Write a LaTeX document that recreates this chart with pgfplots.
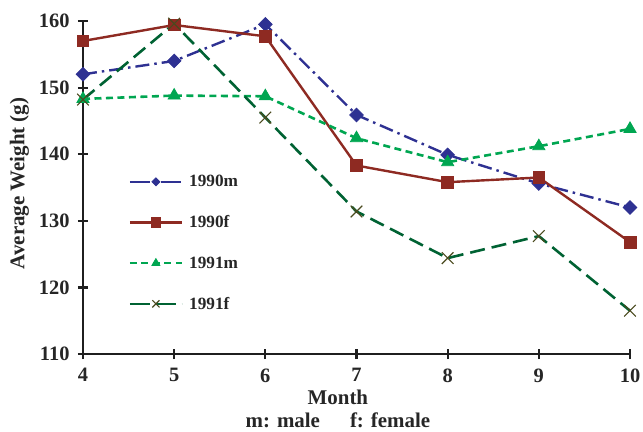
\documentclass[border=0pt]{standalone}
\usepackage{pgfplots}
\pgfplotsset{compat=1.18}
\usepackage{fontspec}
\setmainfont{Liberation Serif}
\definecolor{cBlue}{HTML}{2E3192}
\definecolor{cRed}{HTML}{8E2A22}
\definecolor{cGreen}{HTML}{00A651}
\definecolor{cDark}{HTML}{006233}
\definecolor{cOlive}{HTML}{4A4A1E}
\begin{document}
\begin{tikzpicture}
\useasboundingbox (-83bp,-78bp) rectangle (560bp,354bp);
\begin{axis}[
  at={(0,0)}, anchor=south west,
  scale only axis,
  width=547bp, height=333bp,
  xmin=4, xmax=10, ymin=110, ymax=160,
  xtick={4,5,6,7,8,9,10},
  ytick={110,120,130,140,150,160},
  axis lines=left,
  axis line style={-, line width=2.6bp, black!88},
  tick style={line width=2.2bp, black!88},
  major tick length=10bp,
  tick align=center,
  clip=false,
  /pgf/number format/assume math mode=true,
  tick label style={font=\fontsize{20.5}{24}\selectfont\bfseries, text=black!85},
  xticklabel style={yshift=-6bp},
  yticklabel style={xshift=-5bp},
  xlabel={Month\\m: male\hspace{30bp}f: female},
  xlabel style={at={(axis description cs:0.466,0)}, anchor=north, inner sep=0pt, yshift=-36bp,
    align=center, font=\fontsize{21}{23}\selectfont\bfseries, text=black!85},
  ylabel={Average Weight (g)},
  ylabel style={at={(axis description cs:-0.116,0.512)}, anchor=center, inner sep=0pt,
    font=\fontsize{21}{23}\selectfont\bfseries, text=black!85},
  legend style={draw=none, fill=none, at={(0.083,0.543)}, anchor=north west,
    font=\fontsize{17.3}{19}\selectfont\bfseries, text=black!85, row sep=23.4bp, inner sep=0pt,
    /tikz/every odd column/.append style={column sep=4bp}},
  legend cell align=left,
  legend image code/.code={\draw[mark repeat=2,mark phase=2] plot coordinates {(0bp,0bp) (26bp,0bp) (52bp,0bp)};},
]
\addplot[forget plot, cBlue, line width=2.4bp, dash pattern=on 14bp off 5bp on 2.5bp off 5bp, mark=square*, mark size=4.8bp, mark options={solid, fill=cBlue, rotate=45, line width=0.8bp}]
  coordinates {(4,152.0) (5,154.0) (6,159.5) (7,145.9) (8,139.9) (9,135.6) (10,132.0)};
\addplot[forget plot, cRed, line width=2.4bp, solid, mark=square*, mark size=5.9bp, mark options={solid, fill=cRed, line width=0.8bp}]
  coordinates {(4,157.0) (5,159.4) (6,157.7) (7,138.3) (8,135.8) (9,136.5) (10,126.8)};
\addplot[forget plot, cGreen, line width=2.6bp, dash pattern=on 7bp off 4.5bp, mark=triangle*, mark size=7bp, mark options={solid, fill=cGreen, line width=0.8bp}]
  coordinates {(4,148.3) (5,148.8) (6,148.7) (7,142.4) (8,138.8) (9,141.2) (10,143.8)};
\addplot[forget plot, cDark, line width=2.6bp, dash pattern=on 15bp off 7bp, mark=x, mark size=8.2bp, mark options={solid, draw=cOlive, line width=1.1bp}]
  coordinates {(4,148.2) (5,159.6) (6,145.5) (7,131.4) (8,124.4) (9,127.7) (10,116.5)};
\addlegendimage{cBlue, line width=2.4bp, dash pattern=on 20bp off 4bp on 2.5bp off 5bp, mark=square*, mark size=2.8bp, mark options={solid, fill=cBlue, rotate=45, line width=0.8bp}}
\addlegendentry{1990m}
\addlegendimage{cRed, line width=2.4bp, solid, mark=square*, mark size=4.7bp, mark options={solid, fill=cRed, line width=0.8bp}}
\addlegendentry{1990f}
\addlegendimage{cGreen, line width=2.6bp, dash pattern=on 7bp off 4.5bp, mark=triangle*, mark size=4.6bp, mark options={solid, fill=cGreen, line width=0.8bp}}
\addlegendentry{1991m}
\addlegendimage{cDark, line width=2.6bp, dash pattern=on 20bp off 6bp, mark=x, mark size=5bp, mark options={solid, draw=cOlive, line width=1.1bp}}
\addlegendentry{1991f}
\end{axis}
\end{tikzpicture}
\end{document}
